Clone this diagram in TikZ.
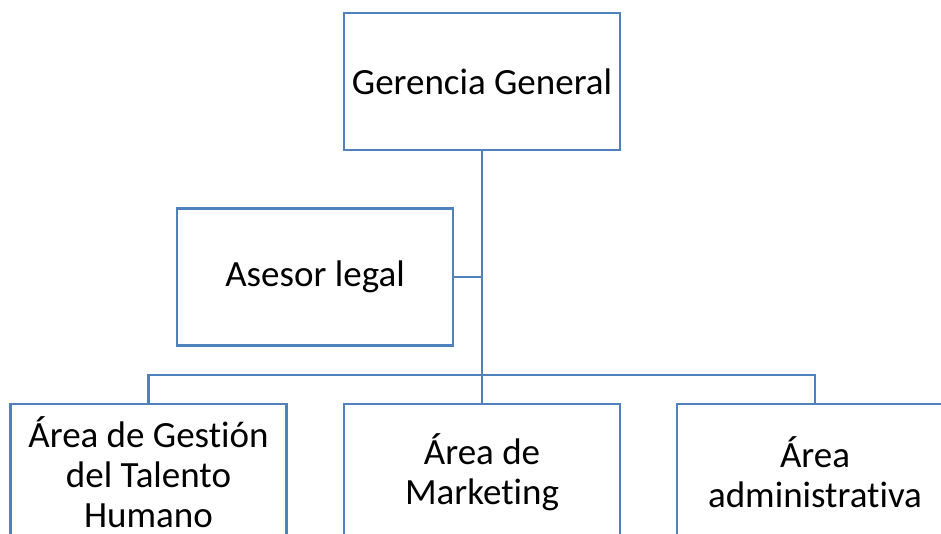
\documentclass[tikz,border=0pt]{standalone}
\usepackage{fontspec}
\setmainfont[Ligatures={NoCommon,NoContextual},Contextuals=NoAlternate,RawFeature={-liga;-clig;-calt;-dlig}]{Carlito}
\definecolor{boxblue}{RGB}{79,129,189}
\begin{document}
\begin{tikzpicture}[x=1pt,y=-1pt,
  orgbox/.style={draw=boxblue,line width=2.8pt,fill=white,minimum width=276pt,minimum height=137pt,inner sep=0pt,align=center,font=\fontsize{37}{40}\selectfont},
  link/.style={draw=boxblue,line width=2.8pt}]
\useasboundingbox (0,0) rectangle (941,534);
\clip (0,0) rectangle (941,534);
\node[orgbox] (gg) at (482,81.5) {Gerencia General};
\node[orgbox] (al) at (315,277) {Asesor legal};
\node[orgbox,text depth=0pt] (gh) at (148.5,472.5) {Área de Gestión\\del Talento\\Humano};
\node[orgbox] (mk) at (482,472.5) {Área de\\Marketing};
\node[orgbox] (ad) at (815,472.5) {Área\\administrativa};
\coordinate (bus) at (482,375);
\draw[link] (gg.south) -- (mk.north);
\draw[link] (al.east) -- (al.east -| gg.south);
\draw[link] (gh.north) |- (bus) -| (ad.north);
\end{tikzpicture}
\end{document}
